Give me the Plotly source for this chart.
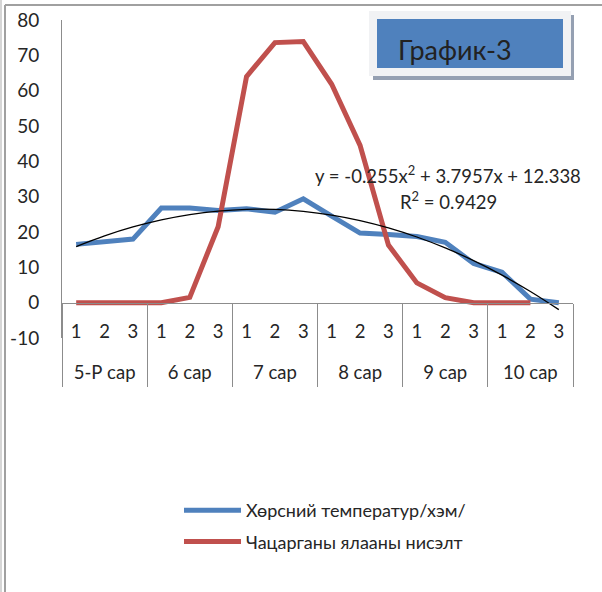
import plotly.graph_objects as go

# ---------------- data ----------------
months = ["5-Р сар", "6 сар", "7 сар", "8 сар", "9 сар", "10 сар"]
dekads = ["1", "2", "3"]
soil_temp = [16.5, 17.1, 18.0, 26.8, 26.8, 26.1, 26.6, 25.6, 29.4,
             24.5, 19.7, 19.3, 18.7, 17.1, 11.1, 8.6, 1.0, 0.0]
locust_flight = [0, 0, 0, 0, 1.5, 21.5, 64.0, 73.6, 73.9,
                 61.8, 44.5, 16.3, 5.6, 1.4, 0, 0, 0, None]
trend_coef = [-0.255, 3.7957, 12.338]   # quadratic trendline shown on chart
r_squared = 0.9429
series_names = ["Хөрсний температур/хэм/", "Чацарганы ялааны нисэлт"]
chart_title = "График-3"
y_ticks = [-10, 0, 10, 20, 30, 40, 50, 60, 70, 80]
y_tick_labels = ["-10", "0", "10", "20", "30", "40", "50", "60", "70", "80"]
y_range = [-10, 80]

# ---------------- derived ----------------
n = len(months) * len(dekads)
xpos = list(range(n))
dekad_text = [d for _ in months for d in dekads]
group_centers = [g * len(dekads) + (len(dekads) - 1) / 2 for g in range(len(months))]
group_bounds = [g * len(dekads) - 0.5 for g in range(len(months) + 1)]
trend = [trend_coef[0] * (i + 1) ** 2 + trend_coef[1] * (i + 1) + trend_coef[2] for i in xpos]
x_range = [-0.5, n - 0.5]

W, H = 602, 592
ML, MR, MT, MB = 62, 29, 20, 254
PW, PH = W - ML - MR, H - MT - MB


def px(x):
    return (x - ML) / PW


def py(y):
    return (H - MB - y) / PH


FONT = "Lato, 'Noto Sans', sans-serif"
TXT = "#262626"
AXC = "#8c8c8c"
axis_pos = (0 - y_range[0]) / (y_range[1] - y_range[0])

fig = go.Figure()
fig.add_trace(go.Scatter(x=xpos, y=soil_temp, mode="lines",
                         name=series_names[0], legendgroup="a",
                         line=dict(color="#4f81bd", width=5)))
fig.add_trace(go.Scatter(x=xpos, y=locust_flight, mode="lines",
                         name=series_names[1], legendgroup="b",
                         line=dict(color="#c0504d", width=5)))
fig.add_trace(go.Scatter(x=xpos, y=trend, mode="lines", xaxis="x2",
                         showlegend=False, hoverinfo="skip",
                         line=dict(color="#000000", width=1.3, shape="spline")))

fig.update_layout(
    width=W, height=H,
    margin=dict(l=ML, r=MR, t=MT, b=MB, autoexpand=False),
    paper_bgcolor="white", plot_bgcolor="white",
    font=dict(family=FONT, size=18, color=TXT),
    showlegend=True,
    legend=dict(x=px(179), y=py(492), xanchor="left", yanchor="top",
                font=dict(size=18, color=TXT), itemwidth=57,
                tracegroupgap=5, bgcolor="rgba(0,0,0,0)"),
    xaxis=dict(range=x_range, showline=True, linecolor=AXC, linewidth=1,
               anchor="free", position=axis_pos, automargin=False,
               tickmode="array", tickvals=xpos, ticktext=dekad_text,
               ticks="", ticklabelstandoff=12, showgrid=False, zeroline=False,
               tickfont=dict(size=18.5, color=TXT),
               minor=dict(tickmode="array", tickvals=group_bounds,
                          ticks="outside", ticklen=83, tickcolor=AXC,
                          tickwidth=1, showgrid=False)),
    xaxis2=dict(range=x_range, overlaying="x", anchor="free",
                position=axis_pos, side="bottom", automargin=False,
                showline=False, showgrid=False, zeroline=False,
                tickmode="array", tickvals=group_centers, ticktext=months,
                ticks="", ticklabelstandoff=57,
                tickfont=dict(size=18.5, color=TXT)),
    yaxis=dict(range=y_range, tickmode="array", tickvals=y_ticks,
               ticktext=y_tick_labels, showline=True, linecolor=AXC,
               linewidth=1, showgrid=False, zeroline=False, ticks="",
               automargin=False, ticklabelstandoff=18,
               tickfont=dict(size=19, color=TXT)),
)

shapes = []
# outer frame lines
shapes.append(dict(type="line", xref="paper", yref="paper", x0=px(1), x1=px(1),
                   y0=py(0), y1=py(H), line=dict(color="#c8c8c8", width=1.5)))
shapes.append(dict(type="line", xref="paper", yref="paper", x0=px(5), x1=px(5),
                   y0=py(5), y1=py(H), line=dict(color="#a0a0a0", width=2)))
shapes.append(dict(type="line", xref="paper", yref="paper", x0=px(5), x1=px(W),
                   y0=py(5), y1=py(5), line=dict(color="#a0a0a0", width=2)))
# title box: shadow, light frame, blue box
shapes.append(dict(type="rect", xref="paper", yref="paper", x0=px(373), x1=px(574),
                   y0=py(80), y1=py(15), fillcolor="#95a0b2", line=dict(width=0)))
shapes.append(dict(type="rect", xref="paper", yref="paper", x0=px(369), x1=px(571),
                   y0=py(76), y1=py(11), fillcolor="#f1f2f4", line=dict(width=0)))
shapes.append(dict(type="rect", xref="paper", yref="paper", x0=px(377), x1=px(563),
                   y0=py(68), y1=py(19), fillcolor="#4f81bd", line=dict(width=0)))
fig.update_layout(shapes=shapes)

annotations = [
    dict(xref="paper", yref="paper", x=px(396), y=py(50), xanchor="left",
         yanchor="middle", text=chart_title, showarrow=False,
         font=dict(size=27, color="#222222")),
    dict(xref="paper", yref="paper", x=px(448), y=py(174), xanchor="center",
         yanchor="middle", showarrow=False,
         text=f"y = {trend_coef[0]}x<sup>2</sup> + {trend_coef[1]}x + {trend_coef[2]}",
         font=dict(size=18.5, color=TXT)),
    dict(xref="paper", yref="paper", x=px(448), y=py(200), xanchor="center",
         yanchor="middle", showarrow=False,
         text=f"R<sup>2</sup> = {r_squared}",
         font=dict(size=18.5, color=TXT)),
]
fig.update_layout(annotations=annotations)

fig.write_html("out.html", config={"displayModeBar": False},
               post_script="document.body.style.margin='0';document.body.style.overflow='hidden';")
